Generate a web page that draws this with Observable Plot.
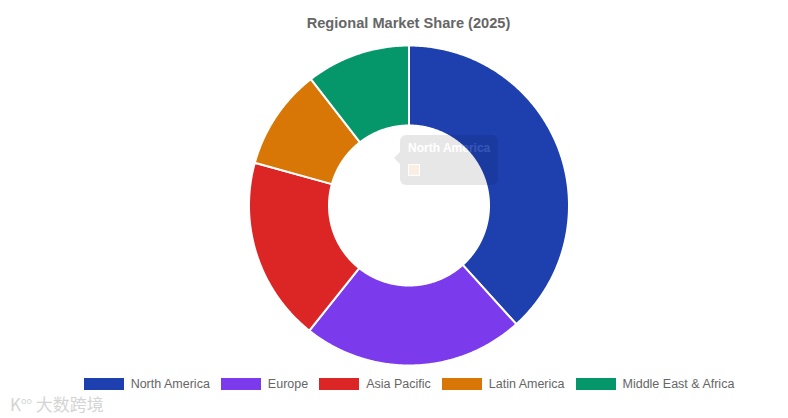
<!DOCTYPE html>
<html>
<head>
<meta charset="utf-8">
<script src="https://cdn.jsdelivr.net/npm/d3@7"></script>
<script src="https://cdn.jsdelivr.net/npm/@observablehq/plot@0.6"></script>
<style>
  html, body { margin: 0; padding: 0; background: #fff; }
  body { width: 788px; height: 418px; position: relative; overflow: hidden; font-family: "Liberation Sans", Arial, sans-serif; }
  #title { height: 36px; line-height: 47px; text-align: center; font-weight: bold; font-size: 14.6px; color: #666; padding-left: 29px; }
  #chart { height: 338px; }
  #legend { display: flex; justify-content: center; align-items: center; height: 20px; font-size: 12.5px; color: #666; padding-left: 30px; }
  .item { display: flex; align-items: center; margin: 0 5.5px; }
  .sw { width: 40px; height: 12px; margin-right: 7px; box-sizing: border-box; }
  #tip { position: absolute; left: 400px; top: 135px; width: 98px; height: 50px; border-radius: 6px; background: rgba(0,0,0,0.8); opacity: 0.11; color: #fff; font-weight: bold; font-size: 12px; }
  #tip .t { position: absolute; left: 8px; top: 6px; }
  #tip .b { position: absolute; left: 8px; top: 29px; width: 10px; height: 10px; background: #d97706; border: 1px solid #fff; }
  #tip .caret { position: absolute; left: -6px; top: 17px; width: 0; height: 0; border-top: 6px solid transparent; border-bottom: 6px solid transparent; border-right: 6px solid rgba(0,0,0,0.8); }
  #wm { position: absolute; left: 10px; top: 391px; font-size: 17px; color: #d4d4d4; font-family: "Noto Sans CJK SC", sans-serif; }
</style>
</head>
<body>
<div id="title">Regional Market Share (2025)</div>
<div id="chart"></div>
<div id="legend"></div>
<div id="tip"><div class="caret"></div><div class="t">North America</div><div class="b"></div></div>
<div id="wm">K<sup style="font-size:9px">oo</sup> 大数跨境</div>
<script>
const regions = ["North America", "Europe", "Asia Pacific", "Latin America", "Middle East & Africa"];
const shares = [38.3, 22.4, 18.6, 10.2, 10.5];
const colors = ["#1e40af", "#7c3aed", "#dc2626", "#d97706", "#059669"];

const total = d3.sum(shares);
const innerRatio = 0.5;
const pts = [];
let acc = 0;
regions.forEach((region, i) => {
  const a0 = acc / total * 2 * Math.PI;
  acc += shares[i];
  const a1 = acc / total * 2 * Math.PI;
  const n = Math.max(2, Math.ceil((a1 - a0) / (Math.PI / 360)));
  for (let k = 0; k <= n; k++) {
    const a = a0 + (a1 - a0) * k / n;
    pts.push({region, x: Math.sin(a), y: Math.cos(a)});
  }
  for (let k = n; k >= 0; k--) {
    const a = a0 + (a1 - a0) * k / n;
    pts.push({region, x: innerRatio * Math.sin(a), y: innerRatio * Math.cos(a)});
  }
});

const W = 788, H = 338, R = 160, cx = 408.5, cy = 169;
const chart = Plot.plot({
  width: W,
  height: H,
  margin: 0,
  x: {domain: [-cx / R, (W - cx) / R], axis: null},
  y: {domain: [-(H - cy) / R, cy / R], axis: null},
  color: {domain: regions, range: colors},
  marks: [
    Plot.line(pts, {x: "x", y: "y", z: "region", fill: "region", stroke: "white", strokeWidth: 2, curve: "linear-closed"})
  ]
});
document.getElementById("chart").appendChild(chart);

const legend = document.getElementById("legend");
regions.forEach((r, i) => {
  const it = document.createElement("div");
  it.className = "item";
  const sw = document.createElement("div");
  sw.className = "sw";
  sw.style.background = colors[i];
  const tx = document.createElement("span");
  tx.textContent = r;
  it.appendChild(sw);
  it.appendChild(tx);
  legend.appendChild(it);
});
</script>
</body>
</html>
